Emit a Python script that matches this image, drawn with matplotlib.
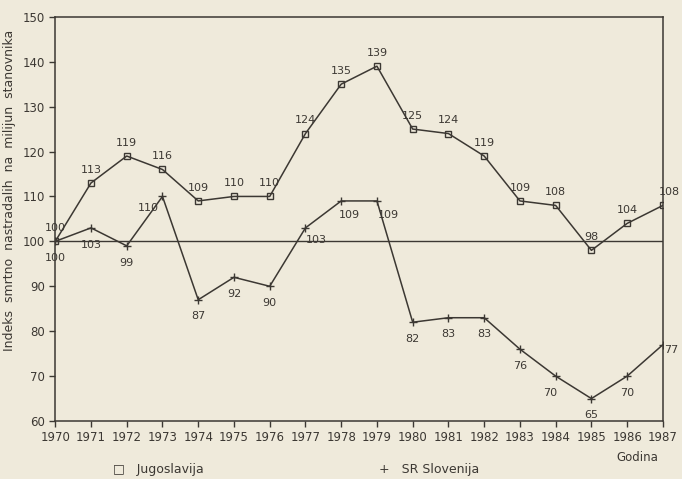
import numpy as np
import matplotlib.pyplot as plt

# podaci
godine = list(range(1970, 1988))
jugoslavija = [100, 113, 119, 116, 109, 110, 110, 124, 135, 139, 125, 124, 119, 109, 108, 98, 104, 108]
slovenija = [100, 103, 99, 110, 87, 92, 90, 103, 109, 109, 82, 83, 83, 76, 70, 65, 70, 77]

# pomaci oznaka (u tockama)
pom_jug = [(0, 6), (0, 6), (0, 6), (0, 6), (0, 6), (0, 6), (0, 6), (0, 6), (0, 6), (0, 6),
           (0, 6), (0, 6), (0, 6), (0, 6), (0, 6), (0, 6), (0, 6), (5, 6)]
pom_slo = [(0, -12), (0, -12), (0, -12), (-10, -8), (0, -12), (0, -12), (0, -12), (8, -9),
           (6, -10), (8, -10), (0, -12), (0, -12), (0, -12), (0, -12), (-4, -12), (0, -12),
           (0, -12), (6, -4)]

boja = '#3c3833'
pozadina = '#efeadb'

fig = plt.figure(figsize=(6.82, 4.79), dpi=100, facecolor=pozadina)
ax = fig.add_axes([0.081, 0.121, 0.891, 0.844])
ax.set_facecolor(pozadina)

ax.plot(godine, jugoslavija, color=boja, lw=1.1, marker='s', ms=5, mfc='none', mec=boja, mew=1)
ax.plot(godine, slovenija, color=boja, lw=1.1, marker='+', ms=6, mew=1)
ax.axhline(100, color=boja, lw=1)

for x, y, (dx, dy) in zip(godine, jugoslavija, pom_jug):
    ax.annotate(str(y), (x, y), xytext=(dx, dy), textcoords='offset points',
                ha='center', va='bottom', fontsize=8, color=boja, annotation_clip=False)
for x, y, (dx, dy) in zip(godine, slovenija, pom_slo):
    ax.annotate(str(y), (x, y), xytext=(dx, dy), textcoords='offset points',
                ha='center', va='center', fontsize=8, color=boja, annotation_clip=False)

ax.set_xlim(1970, 1987)
ax.set_ylim(60, 150)
ax.set_xticks(godine)
ax.set_yticks(range(60, 151, 10))
ax.tick_params(colors=boja, labelsize=8.5, length=4, width=1)
for s in ax.spines.values():
    s.set_color(boja)
    s.set_linewidth(1.1)

ax.set_ylabel('Indeks  smrtno  nastradalih  na  milijun  stanovnika', fontsize=9, color=boja)
ax.yaxis.set_label_coords(-0.065, 0.57)
fig.text(0.935, 0.038, 'Godina', fontsize=8.5, color=boja, ha='center')
fig.text(0.166, 0.012, '□   Jugoslavija', fontsize=9, color=boja, ha='left')
fig.text(0.556, 0.012, '+   SR Slovenija', fontsize=9, color=boja, ha='left')

fig.savefig('out.png', dpi=100, facecolor=pozadina)
